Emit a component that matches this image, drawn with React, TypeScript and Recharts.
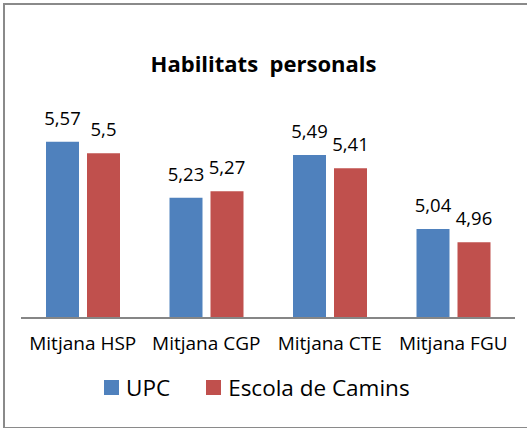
import React from 'react';
import { Bar, BarChart, LabelList, XAxis, YAxis } from 'recharts';

const categories = ['Mitjana HSP', 'Mitjana CGP', 'Mitjana CTE', 'Mitjana FGU'];
const upcValues = [5.57, 5.23, 5.49, 5.04];
const caminsValues = [5.5, 5.27, 5.41, 4.96];
const seriesNames = ['UPC', 'Escola de Camins'];
const seriesColors = ['#4f81bd', '#c0504d'];

const data = categories.map((label, i) => ({ label, upc: upcValues[i], camins: caminsValues[i] }));

const font = '"Open Sans", Calibri, sans-serif';
const fmt = (v: any) => String(v).replace('.', ',');

export default function App() {
  return (
    <div style={{ position: 'absolute', left: 0, top: 0, width: 527, height: 428, overflow: 'hidden', background: '#fff', fontFamily: font }}>
      <div style={{ position: 'absolute', left: 3, top: 3, width: 560, height: 422, border: '2px solid #8a8a8a' }} />
      <div style={{ position: 'absolute', left: 0, top: 48, width: 527, textAlign: 'center', fontWeight: 700, fontSize: 22, lineHeight: '30px', color: '#000', whiteSpace: 'pre' }}>
        {'Habilitats  personals'}
      </div>
      <div style={{ position: 'absolute', left: 0, top: 0 }}>
        <BarChart width={527} height={428} data={data} margin={{ top: 71, right: 12, left: 21, bottom: 0 }} barSize={33} barGap={8}>
          <YAxis hide domain={[4.5, 6]} />
          <XAxis
            dataKey="label"
            height={110}
            tickLine={false}
            tickSize={0}
            tickMargin={19}
            axisLine={{ stroke: '#868686', strokeWidth: 2 }}
            tick={{ fill: '#000', fontSize: 19, fontFamily: font }}
            interval={0}
          />
          <Bar dataKey="upc" name={seriesNames[0]} fill={seriesColors[0]} isAnimationActive={false}>
            <LabelList dataKey="upc" position="top" offset={17} formatter={fmt} style={{ fill: '#000', fontSize: 18.5, fontFamily: font }} />
          </Bar>
          <Bar dataKey="camins" name={seriesNames[1]} fill={seriesColors[1]} isAnimationActive={false}>
            <LabelList dataKey="camins" position="top" offset={17} formatter={fmt} style={{ fill: '#000', fontSize: 18.5, fontFamily: font }} />
          </Bar>
        </BarChart>
      </div>
      <div style={{ position: 'absolute', left: 104, top: 372, height: 30, display: 'flex', alignItems: 'center', fontSize: 22.5, color: '#000' }}>
        {seriesNames.map((name, i) => (
          <div key={name} style={{ display: 'flex', alignItems: 'center', marginRight: 36 }}>
            <span style={{ display: 'inline-block', width: 15, height: 15, background: seriesColors[i], marginRight: 7 }} />
            <span>{name}</span>
          </div>
        ))}
      </div>
    </div>
  );
}
